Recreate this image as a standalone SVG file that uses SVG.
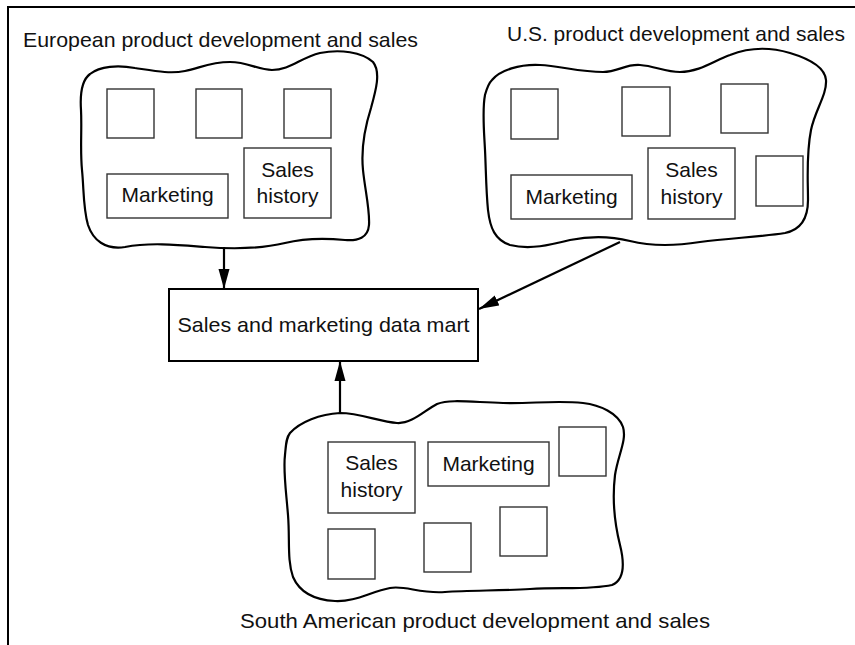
<svg xmlns="http://www.w3.org/2000/svg" width="855" height="645" viewBox="0 0 855 645">
<style>
text{font-family:"Liberation Sans",Arial,sans-serif;font-size:21px;fill:#111}
.blob{fill:none;stroke:#000;stroke-width:2.2;stroke-linejoin:round}
.box{fill:none;stroke:#333;stroke-width:1.4}
.mart{fill:#fff;stroke:#000;stroke-width:2}
.frame{fill:none;stroke:#000;stroke-width:2}
.conn{fill:none;stroke:#000;stroke-width:2.2}
.c{text-anchor:middle}
</style>
<defs>
<marker id="ah" markerUnits="userSpaceOnUse" markerWidth="20" markerHeight="12" refX="20" refY="6" orient="auto">
<path d="M0,0.5 L20,6 L0,11.5 Z" fill="#000"/>
</marker>
</defs>
<path class="frame" d="M8,645 V7 H855"/>

<g id="europe">
<text x="23" y="47" textLength="395" lengthAdjust="spacingAndGlyphs">European product development and sales</text>
<path class="blob" d="M90,74 C100,66 118,65 135,68 C155,71 170,74 185,71 C200,68 210,62 230,62 C248,62 258,70 272,70 C290,70 300,58 320,53 C340,49 362,52 373,62 C381,72 376,90 371,108 C364,130 361,150 363,170 C365,190 370,210 369,225 C368,238 358,241 345,240 C325,238 305,238 285,243 C260,249 230,249 205,247 C180,245 150,242 125,247 C105,250 93,240 88,225 C83,208 84,190 82,170 C80,150 82,130 81,110 C80,95 82,80 90,74 Z"/>
<rect class="box" x="107" y="89" width="47" height="49"/>
<rect class="box" x="196" y="89" width="46" height="49"/>
<rect class="box" x="284" y="89" width="47" height="49"/>
<rect class="box" x="107" y="174" width="121" height="44"/>
<text class="c" x="167.5" y="202">Marketing</text>
<rect class="box" x="244" y="148" width="87" height="70"/>
<text class="c" x="287.5" y="177">Sales</text>
<text class="c" x="287.5" y="203">history</text>
</g>

<g id="us">
<text x="507" y="41" textLength="338" lengthAdjust="spacingAndGlyphs">U.S. product development and sales</text>
<path class="blob" d="M492,80 C500,70 520,64 540,65 C560,66 580,72 603,72 C618,72 625,64 640,65 C655,66 665,72 680,72 C700,72 715,60 730,55 C750,47 770,47 790,53 C810,59 825,68 826,80 C827,95 815,110 811,130 C806,155 808,180 808,200 C808,220 800,230 785,233 C760,237 730,238 700,242 C675,246 650,246 630,241 C610,236 590,236 570,240 C550,245 530,250 510,245 C495,240 490,228 488,210 C486,190 486,170 485,150 C484,130 482,110 485,95 C487,88 488,84 492,80 Z"/>
<rect class="box" x="511" y="89" width="47" height="50"/>
<rect class="box" x="622" y="87" width="48" height="49"/>
<rect class="box" x="721" y="84" width="47" height="49"/>
<rect class="box" x="511" y="175" width="121" height="44"/>
<text class="c" x="571.5" y="204">Marketing</text>
<rect class="box" x="648" y="148" width="87" height="71"/>
<text class="c" x="691.5" y="177">Sales</text>
<text class="c" x="691.5" y="204">history</text>
<rect class="box" x="756" y="156" width="47" height="50"/>
</g>

<g id="mart">
<rect class="mart" x="169" y="289" width="309" height="72"/>
<text class="c" x="323.5" y="332" textLength="292" lengthAdjust="spacingAndGlyphs">Sales and marketing data mart</text>
</g>

<g id="southamerica">
<path class="blob" d="M290,433 C300,422 320,414 340,413 C360,413 380,422 397,423 C412,424 425,410 437,404 C450,399 470,402 503,403 C530,404 555,400 583,403 C600,405 618,413 623,427 C627,440 618,455 615,475 C612,500 615,525 620,545 C625,565 624,580 612,585 C590,590 560,587 530,589 C500,591 470,590 445,592 C420,594 405,585 390,588 C370,592 355,602 335,601 C315,600 300,593 293,577 C287,560 290,540 288,515 C286,490 283,470 285,455 C286,445 286,438 290,433 Z"/>
<rect class="box" x="328" y="442" width="87" height="71"/>
<text class="c" x="371.5" y="470">Sales</text>
<text class="c" x="371.5" y="497">history</text>
<rect class="box" x="428" y="442" width="121" height="44"/>
<text class="c" x="488.5" y="471">Marketing</text>
<rect class="box" x="559" y="427" width="47" height="49"/>
<rect class="box" x="328" y="529" width="47" height="50"/>
<rect class="box" x="424" y="523" width="47" height="49"/>
<rect class="box" x="500" y="507" width="47" height="49"/>
<text x="240" y="628" textLength="470" lengthAdjust="spacingAndGlyphs">South American product development and sales</text>
</g>

<g id="connectors">
<path class="conn" d="M224,247 V289" marker-end="url(#ah)"/>
<path class="conn" d="M620,242 L479,309" marker-end="url(#ah)"/>
<path class="conn" d="M340,413 V361" marker-end="url(#ah)"/>
</g>
</svg>
